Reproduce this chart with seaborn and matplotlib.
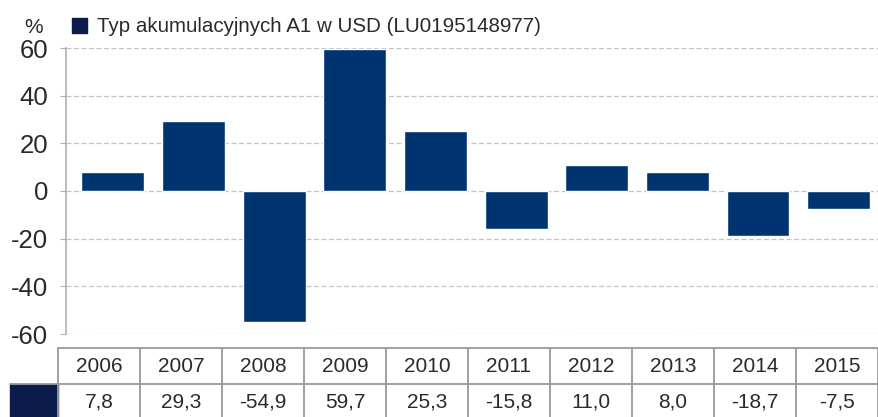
import matplotlib

matplotlib.use("Agg")

import matplotlib.pyplot as plt
import pandas as pd
import seaborn as sns

YEARS = ["2006", "2007", "2008", "2009", "2010", "2011", "2012", "2013", "2014", "2015"]
RETURNS = [7.8, 29.3, -54.9, 59.7, 25.3, -15.8, 11.0, 8.0, -18.7, -7.5]
Y_TICKS = [-60, -40, -20, 0, 20, 40, 60]
SERIES_LABEL = "Typ akumulacyjnych A1 w USD (LU0195148977)"

BAR_COLOR = "#003470"
SWATCH_COLOR = "#0b1b4c"
GRID_COLOR = "#c4c4c4"
TABLE_LINE = "#9a9a9a"
TEXT_COLOR = "#2a2a2a"

W, H = 879, 417

sns.set_theme(style="white")
plt.rcParams["font.family"] = ["Liberation Sans", "DejaVu Sans"]

df = pd.DataFrame({"year": YEARS, "value": RETURNS})

fig = plt.figure(figsize=(W / 100, H / 100), dpi=100)
ax = fig.add_axes([66 / W, 1 - 334 / H, (879 - 66) / W, (334 - 48) / H])

sns.barplot(data=df, x="year", y="value", color=BAR_COLOR, width=0.78,
            saturation=1, ax=ax, zorder=3)
ax.set_xlim(-0.58, 9.5)
ax.set_ylim(-60, 60)
ax.set_yticks(Y_TICKS)
ax.set_yticklabels([str(t) for t in Y_TICKS], fontsize=18.5, color=TEXT_COLOR)
ax.set_xticks([])
ax.set_xlabel("")
ax.set_ylabel("")
for t in Y_TICKS:
    ax.axhline(t, color=GRID_COLOR, lw=0.9, ls=(0, (4, 2)), zorder=1)
for side in ["top", "right", "bottom"]:
    ax.spines[side].set_visible(False)
ax.spines["left"].set_color("#b0b0b0")
ax.spines["left"].set_linewidth(1.2)
ax.tick_params(axis="y", left=True, length=4, width=0.8, color="#b0b0b0", pad=9)

# overlay in pixel coordinates for legend and data table
ov = fig.add_axes([0, 0, 1, 1], zorder=5)
ov.set_xlim(0, W)
ov.set_ylim(H, 0)
ov.axis("off")
ov.patch.set_alpha(0)

ov.text(24, 27, "%", fontsize=15, color=TEXT_COLOR, va="center", ha="left")
ov.add_patch(plt.Rectangle((72, 18), 15, 15, color=SWATCH_COLOR))
ov.text(97, 26, SERIES_LABEL, fontsize=14.8, color=TEXT_COLOR, va="center", ha="left")

col_w = 82
x0 = 58
top, mid, bottom = 348, 384, 420
n = len(YEARS)
ov.add_patch(plt.Rectangle((10, mid), x0 - 10, bottom - mid, color=SWATCH_COLOR))
ov.plot([x0, x0 + n * col_w], [top, top], color=TABLE_LINE, lw=1.3)
ov.plot([10, x0 + n * col_w], [mid, mid], color=TABLE_LINE, lw=1.3)
for i in range(n + 1):
    ov.plot([x0 + i * col_w] * 2, [top, bottom], color=TABLE_LINE, lw=1.3)
for i, (year, val) in enumerate(zip(YEARS, RETURNS)):
    cx = x0 + (i + 0.5) * col_w
    ov.text(cx, (top + mid) / 2 + 1, year, fontsize=15, color=TEXT_COLOR,
            ha="center", va="center")
    ov.text(cx, (mid + 417) / 2 + 1, f"{val:.1f}".replace(".", ","), fontsize=15,
            color=TEXT_COLOR, ha="center", va="center")

fig.savefig("out.png", dpi=100)
